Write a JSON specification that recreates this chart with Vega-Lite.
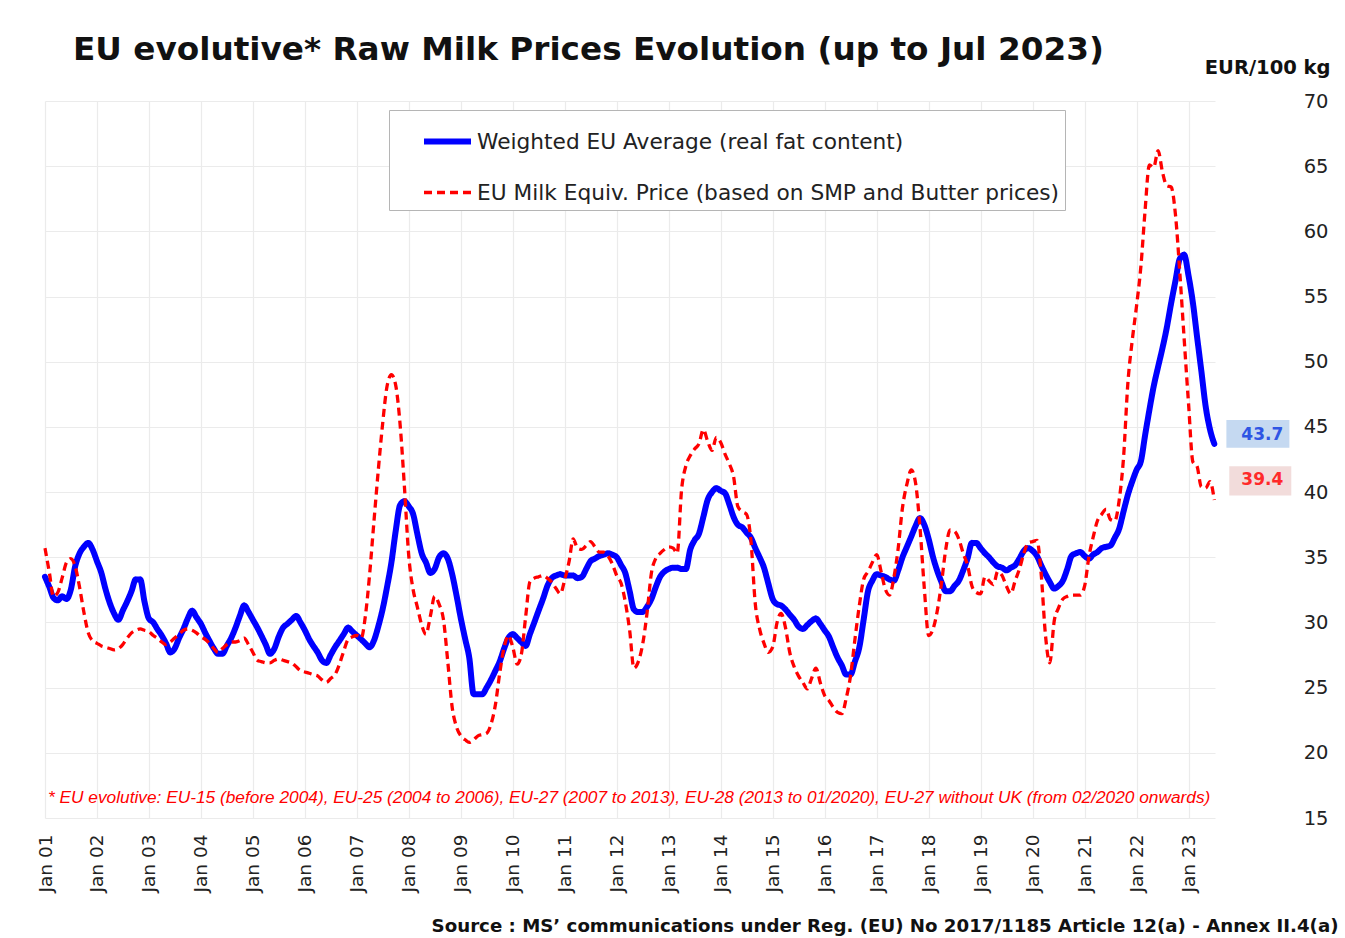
{
  "$schema": "https://vega.github.io/schema/vega-lite/v6.json",
  "width": 1170,
  "height": 717,
  "autosize": {"type": "none"},
  "padding": {"left": 45, "top": 101, "right": 130, "bottom": 120},
  "background": "white",
  "config": {"view": {"stroke": null}, "font": "DejaVu Sans"},
  "title": {
    "text": "EU evolutive* Raw Milk Prices Evolution (up to Jul 2023)",
    "anchor": "start", "frame": "group", "dx": 28, "offset": -36,
    "baseline": "alphabetic",
    "font": "DejaVu Sans", "fontSize": 32.7, "fontWeight": "bold", "color": "#111111"
  },
  "data": {"values": [
{"month":"2001-01-01","weighted":33.5,"equiv":35.7},{"month":"2001-02-01","weighted":32.7,"equiv":33.8},{"month":"2001-03-01","weighted":31.9,"equiv":32.0},{"month":"2001-04-01","weighted":31.7,"equiv":32.3},{"month":"2001-05-01","weighted":32.0,"equiv":33.4},{"month":"2001-06-01","weighted":31.8,"equiv":34.6},{"month":"2001-07-01","weighted":32.5,"equiv":34.9},{"month":"2001-08-01","weighted":34.3,"equiv":34.3},{"month":"2001-09-01","weighted":35.3,"equiv":32.7},{"month":"2001-10-01","weighted":35.8,"equiv":30.8},{"month":"2001-11-01","weighted":36.1,"equiv":29.2},{"month":"2001-12-01","weighted":35.6,"equiv":28.6},
{"month":"2002-01-01","weighted":34.7,"equiv":28.4},{"month":"2002-02-01","weighted":33.8,"equiv":28.2},{"month":"2002-03-01","weighted":32.6,"equiv":28.1},{"month":"2002-04-01","weighted":31.5,"equiv":28.0},{"month":"2002-05-01","weighted":30.7,"equiv":27.9},{"month":"2002-06-01","weighted":30.2,"equiv":28.0},{"month":"2002-07-01","weighted":30.9,"equiv":28.3},{"month":"2002-08-01","weighted":31.6,"equiv":28.8},{"month":"2002-09-01","weighted":32.4,"equiv":29.2},{"month":"2002-10-01","weighted":33.3,"equiv":29.4},{"month":"2002-11-01","weighted":33.3,"equiv":29.5},{"month":"2002-12-01","weighted":31.6,"equiv":29.4},
{"month":"2003-01-01","weighted":30.3,"equiv":29.3},{"month":"2003-02-01","weighted":30.0,"equiv":29.0},{"month":"2003-03-01","weighted":29.5,"equiv":28.8},{"month":"2003-04-01","weighted":29.0,"equiv":28.5},{"month":"2003-05-01","weighted":28.4,"equiv":28.3},{"month":"2003-06-01","weighted":27.7,"equiv":28.5},{"month":"2003-07-01","weighted":28.0,"equiv":28.8},{"month":"2003-08-01","weighted":28.8,"equiv":29.1},{"month":"2003-09-01","weighted":29.5,"equiv":29.4},{"month":"2003-10-01","weighted":30.3,"equiv":29.5},{"month":"2003-11-01","weighted":30.9,"equiv":29.4},{"month":"2003-12-01","weighted":30.4,"equiv":29.2},
{"month":"2004-01-01","weighted":29.9,"equiv":28.9},{"month":"2004-02-01","weighted":29.2,"equiv":28.7},{"month":"2004-03-01","weighted":28.6,"equiv":28.4},{"month":"2004-04-01","weighted":28.0,"equiv":28.0},{"month":"2004-05-01","weighted":27.6,"equiv":27.7},{"month":"2004-06-01","weighted":27.6,"equiv":28.0},{"month":"2004-07-01","weighted":28.2,"equiv":28.3},{"month":"2004-08-01","weighted":28.8,"equiv":28.5},{"month":"2004-09-01","weighted":29.6,"equiv":28.5},{"month":"2004-10-01","weighted":30.5,"equiv":28.6},{"month":"2004-11-01","weighted":31.3,"equiv":28.8},{"month":"2004-12-01","weighted":30.8,"equiv":28.3},
{"month":"2005-01-01","weighted":30.2,"equiv":27.7},{"month":"2005-02-01","weighted":29.6,"equiv":27.1},{"month":"2005-03-01","weighted":29.0,"equiv":27.0},{"month":"2005-04-01","weighted":28.3,"equiv":26.9},{"month":"2005-05-01","weighted":27.6,"equiv":26.9},{"month":"2005-06-01","weighted":28.0,"equiv":27.1},{"month":"2005-07-01","weighted":28.9,"equiv":27.2},{"month":"2005-08-01","weighted":29.6,"equiv":27.1},{"month":"2005-09-01","weighted":29.9,"equiv":27.0},{"month":"2005-10-01","weighted":30.2,"equiv":26.9},{"month":"2005-11-01","weighted":30.5,"equiv":26.6},{"month":"2005-12-01","weighted":30.0,"equiv":26.3},
{"month":"2006-01-01","weighted":29.4,"equiv":26.2},{"month":"2006-02-01","weighted":28.7,"equiv":26.1},{"month":"2006-03-01","weighted":28.2,"equiv":26.0},{"month":"2006-04-01","weighted":27.7,"equiv":25.9},{"month":"2006-05-01","weighted":27.1,"equiv":25.6},{"month":"2006-06-01","weighted":26.9,"equiv":25.4},{"month":"2006-07-01","weighted":27.5,"equiv":25.7},{"month":"2006-08-01","weighted":28.1,"equiv":26.0},{"month":"2006-09-01","weighted":28.6,"equiv":26.8},{"month":"2006-10-01","weighted":29.1,"equiv":27.8},{"month":"2006-11-01","weighted":29.6,"equiv":28.7},{"month":"2006-12-01","weighted":29.3,"equiv":28.9},
{"month":"2007-01-01","weighted":29.0,"equiv":29.0},{"month":"2007-02-01","weighted":28.7,"equiv":28.8},{"month":"2007-03-01","weighted":28.4,"equiv":30.4},{"month":"2007-04-01","weighted":28.1,"equiv":33.7},{"month":"2007-05-01","weighted":28.6,"equiv":37.7},{"month":"2007-06-01","weighted":29.7,"equiv":41.7},{"month":"2007-07-01","weighted":31.0,"equiv":45.2},{"month":"2007-08-01","weighted":32.7,"equiv":48.1},{"month":"2007-09-01","weighted":34.6,"equiv":49.0},{"month":"2007-10-01","weighted":37.0,"equiv":48.2},{"month":"2007-11-01","weighted":39.0,"equiv":45.2},{"month":"2007-12-01","weighted":39.3,"equiv":40.5},
{"month":"2008-01-01","weighted":38.9,"equiv":35.1},{"month":"2008-02-01","weighted":38.3,"equiv":32.5},{"month":"2008-03-01","weighted":36.8,"equiv":31.2},{"month":"2008-04-01","weighted":35.3,"equiv":29.8},{"month":"2008-05-01","weighted":34.6,"equiv":29.1},{"month":"2008-06-01","weighted":33.8,"equiv":30.5},{"month":"2008-07-01","weighted":34.1,"equiv":32.0},{"month":"2008-08-01","weighted":35.0,"equiv":31.4},{"month":"2008-09-01","weighted":35.3,"equiv":30.2},{"month":"2008-10-01","weighted":34.9,"equiv":27.0},{"month":"2008-11-01","weighted":33.7,"equiv":23.5},{"month":"2008-12-01","weighted":32.1,"equiv":22.0},
{"month":"2009-01-01","weighted":30.3,"equiv":21.3},{"month":"2009-02-01","weighted":28.7,"equiv":21.0},{"month":"2009-03-01","weighted":27.3,"equiv":20.8},{"month":"2009-04-01","weighted":24.5,"equiv":21.0},{"month":"2009-05-01","weighted":24.5,"equiv":21.3},{"month":"2009-06-01","weighted":24.5,"equiv":21.4},{"month":"2009-07-01","weighted":25.0,"equiv":21.5},{"month":"2009-08-01","weighted":25.6,"equiv":22.2},{"month":"2009-09-01","weighted":26.3,"equiv":23.7},{"month":"2009-10-01","weighted":27.0,"equiv":26.1},{"month":"2009-11-01","weighted":28.0,"equiv":28.1},{"month":"2009-12-01","weighted":28.8,"equiv":29.0},
{"month":"2010-01-01","weighted":29.1,"equiv":28.1},{"month":"2010-02-01","weighted":28.8,"equiv":26.8},{"month":"2010-03-01","weighted":28.5,"equiv":27.5},{"month":"2010-04-01","weighted":28.2,"equiv":30.4},{"month":"2010-05-01","weighted":29.1,"equiv":33.1},{"month":"2010-06-01","weighted":30.0,"equiv":33.4},{"month":"2010-07-01","weighted":30.9,"equiv":33.5},{"month":"2010-08-01","weighted":31.8,"equiv":33.6},{"month":"2010-09-01","weighted":32.8,"equiv":33.4},{"month":"2010-10-01","weighted":33.4,"equiv":33.1},{"month":"2010-11-01","weighted":33.6,"equiv":32.6},{"month":"2010-12-01","weighted":33.7,"equiv":32.2},
{"month":"2011-01-01","weighted":33.6,"equiv":33.3},{"month":"2011-02-01","weighted":33.6,"equiv":34.7},{"month":"2011-03-01","weighted":33.6,"equiv":36.4},{"month":"2011-04-01","weighted":33.4,"equiv":35.7},{"month":"2011-05-01","weighted":33.5,"equiv":35.6},{"month":"2011-06-01","weighted":34.1,"equiv":35.9},{"month":"2011-07-01","weighted":34.7,"equiv":36.2},{"month":"2011-08-01","weighted":34.9,"equiv":35.8},{"month":"2011-09-01","weighted":35.1,"equiv":35.4},{"month":"2011-10-01","weighted":35.2,"equiv":35.4},{"month":"2011-11-01","weighted":35.3,"equiv":35.1},{"month":"2011-12-01","weighted":35.2,"equiv":34.5},
{"month":"2012-01-01","weighted":35.0,"equiv":33.6},{"month":"2012-02-01","weighted":34.4,"equiv":33.0},{"month":"2012-03-01","weighted":33.8,"equiv":31.6},{"month":"2012-04-01","weighted":32.4,"equiv":29.4},{"month":"2012-05-01","weighted":31.0,"equiv":26.5},{"month":"2012-06-01","weighted":30.8,"equiv":27.0},{"month":"2012-07-01","weighted":30.8,"equiv":28.3},{"month":"2012-08-01","weighted":31.2,"equiv":30.7},{"month":"2012-09-01","weighted":31.8,"equiv":33.8},{"month":"2012-10-01","weighted":32.7,"equiv":34.9},{"month":"2012-11-01","weighted":33.5,"equiv":35.3},{"month":"2012-12-01","weighted":33.9,"equiv":35.6},
{"month":"2013-01-01","weighted":34.1,"equiv":35.8},{"month":"2013-02-01","weighted":34.2,"equiv":35.7},{"month":"2013-03-01","weighted":34.2,"equiv":35.3},{"month":"2013-04-01","weighted":34.1,"equiv":40.2},{"month":"2013-05-01","weighted":34.1,"equiv":42.0},{"month":"2013-06-01","weighted":35.6,"equiv":42.8},{"month":"2013-07-01","weighted":36.3,"equiv":43.3},{"month":"2013-08-01","weighted":36.8,"equiv":43.7},{"month":"2013-09-01","weighted":38.1,"equiv":44.8},{"month":"2013-10-01","weighted":39.4,"equiv":43.9},{"month":"2013-11-01","weighted":40.0,"equiv":43.2},{"month":"2013-12-01","weighted":40.3,"equiv":44.2},
{"month":"2014-01-01","weighted":40.1,"equiv":43.8},{"month":"2014-02-01","weighted":39.9,"equiv":42.9},{"month":"2014-03-01","weighted":39.1,"equiv":42.2},{"month":"2014-04-01","weighted":38.1,"equiv":41.2},{"month":"2014-05-01","weighted":37.5,"equiv":38.9},{"month":"2014-06-01","weighted":37.3,"equiv":38.5},{"month":"2014-07-01","weighted":36.9,"equiv":38.3},{"month":"2014-08-01","weighted":36.5,"equiv":36.3},{"month":"2014-09-01","weighted":35.7,"equiv":31.4},{"month":"2014-10-01","weighted":35.0,"equiv":29.5},{"month":"2014-11-01","weighted":34.2,"equiv":28.4},{"month":"2014-12-01","weighted":33.0,"equiv":27.7},
{"month":"2015-01-01","weighted":31.8,"equiv":28.1},{"month":"2015-02-01","weighted":31.4,"equiv":30.0},{"month":"2015-03-01","weighted":31.3,"equiv":30.7},{"month":"2015-04-01","weighted":31.0,"equiv":29.6},{"month":"2015-05-01","weighted":30.6,"equiv":27.7},{"month":"2015-06-01","weighted":30.2,"equiv":26.6},{"month":"2015-07-01","weighted":29.7,"equiv":25.9},{"month":"2015-08-01","weighted":29.5,"equiv":25.4},{"month":"2015-09-01","weighted":29.8,"equiv":24.9},{"month":"2015-10-01","weighted":30.1,"equiv":25.7},{"month":"2015-11-01","weighted":30.3,"equiv":26.5},{"month":"2015-12-01","weighted":29.9,"equiv":25.4},
{"month":"2016-01-01","weighted":29.4,"equiv":24.4},{"month":"2016-02-01","weighted":28.9,"equiv":24.0},{"month":"2016-03-01","weighted":28.1,"equiv":23.5},{"month":"2016-04-01","weighted":27.3,"equiv":23.1},{"month":"2016-05-01","weighted":26.7,"equiv":23.0},{"month":"2016-06-01","weighted":26.0,"equiv":24.2},{"month":"2016-07-01","weighted":26.0,"equiv":25.9},{"month":"2016-08-01","weighted":27.0,"equiv":28.7},{"month":"2016-09-01","weighted":28.1,"equiv":31.3},{"month":"2016-10-01","weighted":30.2,"equiv":33.3},{"month":"2016-11-01","weighted":32.4,"equiv":33.9},{"month":"2016-12-01","weighted":33.2,"equiv":34.6},
{"month":"2017-01-01","weighted":33.7,"equiv":35.2},{"month":"2017-02-01","weighted":33.6,"equiv":33.9},{"month":"2017-03-01","weighted":33.5,"equiv":32.6},{"month":"2017-04-01","weighted":33.3,"equiv":32.1},{"month":"2017-05-01","weighted":33.2,"equiv":33.4},{"month":"2017-06-01","weighted":34.0,"equiv":35.7},{"month":"2017-07-01","weighted":35.0,"equiv":38.8},{"month":"2017-08-01","weighted":35.8,"equiv":40.6},{"month":"2017-09-01","weighted":36.6,"equiv":41.7},{"month":"2017-10-01","weighted":37.4,"equiv":40.7},{"month":"2017-11-01","weighted":38.0,"equiv":37.3},{"month":"2017-12-01","weighted":37.5,"equiv":32.7},
{"month":"2018-01-01","weighted":36.4,"equiv":29.0},{"month":"2018-02-01","weighted":35.0,"equiv":29.5},{"month":"2018-03-01","weighted":34.0,"equiv":30.8},{"month":"2018-04-01","weighted":33.1,"equiv":33.0},{"month":"2018-05-01","weighted":32.4,"equiv":35.6},{"month":"2018-06-01","weighted":32.4,"equiv":37.1},{"month":"2018-07-01","weighted":32.8,"equiv":37.0},{"month":"2018-08-01","weighted":33.2,"equiv":36.4},{"month":"2018-09-01","weighted":34.0,"equiv":35.3},{"month":"2018-10-01","weighted":34.9,"equiv":34.4},{"month":"2018-11-01","weighted":36.1,"equiv":32.8},{"month":"2018-12-01","weighted":36.1,"equiv":32.3},
{"month":"2019-01-01","weighted":35.7,"equiv":32.2},{"month":"2019-02-01","weighted":35.3,"equiv":33.5},{"month":"2019-03-01","weighted":35.0,"equiv":33.2},{"month":"2019-04-01","weighted":34.6,"equiv":32.9},{"month":"2019-05-01","weighted":34.3,"equiv":33.9},{"month":"2019-06-01","weighted":34.2,"equiv":33.6},{"month":"2019-07-01","weighted":34.0,"equiv":32.8},{"month":"2019-08-01","weighted":34.2,"equiv":32.2},{"month":"2019-09-01","weighted":34.4,"equiv":33.2},{"month":"2019-10-01","weighted":34.9,"equiv":34.1},{"month":"2019-11-01","weighted":35.5,"equiv":35.3},{"month":"2019-12-01","weighted":35.7,"equiv":36.1},
{"month":"2020-01-01","weighted":35.5,"equiv":36.2},{"month":"2020-02-01","weighted":35.1,"equiv":36.3},{"month":"2020-03-01","weighted":34.4,"equiv":33.8},{"month":"2020-04-01","weighted":33.7,"equiv":29.0},{"month":"2020-05-01","weighted":33.1,"equiv":26.9},{"month":"2020-06-01","weighted":32.6,"equiv":30.1},{"month":"2020-07-01","weighted":32.8,"equiv":31.1},{"month":"2020-08-01","weighted":33.2,"equiv":31.8},{"month":"2020-09-01","weighted":34.1,"equiv":32.0},{"month":"2020-10-01","weighted":35.1,"equiv":32.1},{"month":"2020-11-01","weighted":35.3,"equiv":32.1},{"month":"2020-12-01","weighted":35.4,"equiv":32.1},
{"month":"2021-01-01","weighted":35.1,"equiv":32.8},{"month":"2021-02-01","weighted":34.9,"equiv":35.1},{"month":"2021-03-01","weighted":35.2,"equiv":36.5},{"month":"2021-04-01","weighted":35.4,"equiv":37.8},{"month":"2021-05-01","weighted":35.7,"equiv":38.3},{"month":"2021-06-01","weighted":35.8,"equiv":38.7},{"month":"2021-07-01","weighted":35.9,"equiv":37.9},{"month":"2021-08-01","weighted":36.5,"equiv":37.8},{"month":"2021-09-01","weighted":37.2,"equiv":39.4},{"month":"2021-10-01","weighted":38.5,"equiv":42.6},{"month":"2021-11-01","weighted":39.8,"equiv":48.4},{"month":"2021-12-01","weighted":40.8,"equiv":51.6},
{"month":"2022-01-01","weighted":41.7,"equiv":54.3},{"month":"2022-02-01","weighted":42.4,"equiv":57.4},{"month":"2022-03-01","weighted":44.3,"equiv":61.5},{"month":"2022-04-01","weighted":46.3,"equiv":65.1},{"month":"2022-05-01","weighted":48.1,"equiv":64.9},{"month":"2022-06-01","weighted":49.6,"equiv":66.2},{"month":"2022-07-01","weighted":51.0,"equiv":64.6},{"month":"2022-08-01","weighted":52.6,"equiv":63.5},{"month":"2022-09-01","weighted":54.5,"equiv":63.4},{"month":"2022-10-01","weighted":56.2,"equiv":61.3},{"month":"2022-11-01","weighted":57.9,"equiv":56.8},{"month":"2022-12-01","weighted":58.2,"equiv":51.8},
{"month":"2023-01-01","weighted":56.6,"equiv":46.8},{"month":"2023-02-01","weighted":54.5,"equiv":42.3},{"month":"2023-03-01","weighted":52.0,"equiv":42.0},{"month":"2023-04-01","weighted":49.3,"equiv":40.4},{"month":"2023-05-01","weighted":46.6,"equiv":40.3},{"month":"2023-06-01","weighted":44.8,"equiv":40.8},{"month":"2023-07-01","weighted":43.7,"equiv":39.4}
  ]},
  "layer": [
    {
      "transform": [{"fold": ["weighted", "equiv"], "as": ["key", "price"]}],
      "encoding": {
        "x": {
          "field": "month", "type": "temporal",
          "scale": {"type": "utc", "domain": [{"year": 2001, "month": 1, "date": 1, "utc": true}, {"year": 2023, "month": 7, "date": 6, "utc": true}]},
          "axis": {
            "format": "%b %y", "tickCount": {"interval": "year", "step": 1},
            "labelAngle": -90, "labelFontSize": 18.5, "labelColor": "#222222", "labelPadding": 16,
            "labelFlush": false, "labelOverlap": false,
            "ticks": false, "tickSize": 0, "domain": false,
            "grid": true, "gridColor": "#ebebeb", "gridWidth": 1.2,
            "title": "Source : MS’ communications under Reg. (EU) No 2017/1185 Article 12(a) - Annex II.4(a)",
            "titleFontSize": 18.2, "titleFontWeight": "bold", "titleColor": "#111111",
            "titleAlign": "right", "titleBaseline": "middle", "titleX": 1293, "titleY": 108
          }
        },
        "y": {
          "field": "price", "type": "quantitative",
          "scale": {"domain": [15, 70], "nice": false, "zero": false},
          "axis": {
            "orient": "right", "values": [15, 20, 25, 30, 35, 40, 45, 50, 55, 60, 65, 70],
            "labelFontSize": 19.5, "labelColor": "#222222", "labelAlign": "right", "labelBaseline": "middle", "labelPadding": 113,
            "labelFlush": false, "labelOverlap": false,
            "ticks": false, "tickSize": 0, "domain": false,
            "grid": true, "gridColor": "#ebebeb", "gridWidth": 1.2,
            "title": "EUR/100 kg", "titleAngle": 0, "titleAlign": "right", "titleBaseline": "middle",
            "titleX": 115, "titleY": -34, "titleFontSize": 19.5, "titleFontWeight": "bold", "titleColor": "#111111"
          }
        }
      },
      "layer": [
        {
          "transform": [{"filter": "datum.key == 'weighted'"}],
          "mark": {"type": "line", "interpolate": "monotone", "strokeCap": "round", "strokeJoin": "round"},
          "encoding": {
            "color": {"field": "key", "type": "nominal", "scale": {"domain": ["weighted", "equiv"], "range": ["#0000ff", "#ff0000"]},
              "legend": {
                "orient": "none", "legendX": 344, "legendY": 9, "title": null,
                "symbolType": "stroke", "symbolSize": 2209, "symbolOffset": 27, "labelOffset": 3,
                "labelFontSize": 21.7, "labelColor": "#222222", "labelLimit": 900,
                "padding": 5, "rowPadding": 13, "fillColor": "white", "strokeColor": "#b5b5b5",
                "labelExpr": "datum.label == 'weighted' ? 'Weighted EU Average (real fat content)' : 'EU Milk Equiv. Price (based on SMP and Butter prices)'"
              }},
            "strokeDash": {"field": "key", "type": "nominal", "scale": {"domain": ["weighted", "equiv"], "range": [[1, 0], [8, 5]]}},
            "strokeWidth": {"field": "key", "type": "nominal", "scale": {"domain": ["weighted", "equiv"], "range": [6, 3.3]}}
          }
        },
        {
          "transform": [{"filter": "datum.key == 'equiv'"}],
          "mark": {"type": "line", "interpolate": "monotone"},
          "encoding": {
            "color": {"field": "key", "type": "nominal"},
            "strokeDash": {"field": "key", "type": "nominal"},
            "strokeWidth": {"field": "key", "type": "nominal"}
          }
        },
        {
          "transform": [{"filter": "datum.key == 'weighted' && utcyear(datum.month) == 2023 && utcmonth(datum.month) == 6"}],
          "mark": {"type": "point", "shape": "M-1,-0.44H1V0.44H-1Z", "size": 3969, "filled": true, "fill": "#c5d9f1", "opacity": 1, "strokeWidth": 0, "xOffset": 43.6, "yOffset": -10}
        },
        {
          "transform": [{"filter": "datum.key == 'weighted' && utcyear(datum.month) == 2023 && utcmonth(datum.month) == 6"}],
          "mark": {"type": "text", "font": "DejaVu Sans", "fontWeight": "bold", "fontSize": 17, "fill": "#2f55e4", "align": "center", "baseline": "middle", "dx": 48, "dy": -9},
          "encoding": {"text": {"field": "price", "type": "quantitative", "format": ".1f"}}
        },
        {
          "transform": [{"filter": "datum.key == 'equiv' && utcyear(datum.month) == 2023 && utcmonth(datum.month) == 6"}],
          "mark": {"type": "point", "shape": "M-1,-0.47H1V0.47H-1Z", "size": 3844, "filled": true, "fill": "#f2dcdb", "opacity": 1, "strokeWidth": 0, "xOffset": 46, "yOffset": -19}
        },
        {
          "transform": [{"filter": "datum.key == 'equiv' && utcyear(datum.month) == 2023 && utcmonth(datum.month) == 6"}],
          "mark": {"type": "text", "font": "DejaVu Sans", "fontWeight": "bold", "fontSize": 17, "fill": "#ff2a2a", "align": "center", "baseline": "middle", "dx": 48, "dy": -20},
          "encoding": {"text": {"field": "price", "type": "quantitative", "format": ".1f"}}
        }
      ]
    },
    {
      "data": {"values": [{"note": "* EU evolutive: EU-15 (before  2004), EU-25 (2004 to 2006), EU-27 (2007 to 2013), EU-28 (2013 to 01/2020), EU-27 without UK (from 02/2020 onwards)"}]},
      "mark": {"type": "text", "align": "left", "baseline": "middle", "font": "Liberation Sans", "fontStyle": "italic", "fontSize": 17.3, "fill": "#ff0000", "dx": 3},
      "encoding": {
        "x": {"datum": {"year": 2001, "month": 1, "date": 1, "utc": true}, "type": "temporal"},
        "y": {"datum": 16.5, "type": "quantitative"},
        "text": {"field": "note", "type": "nominal"}
      }
    }
  ]
}
